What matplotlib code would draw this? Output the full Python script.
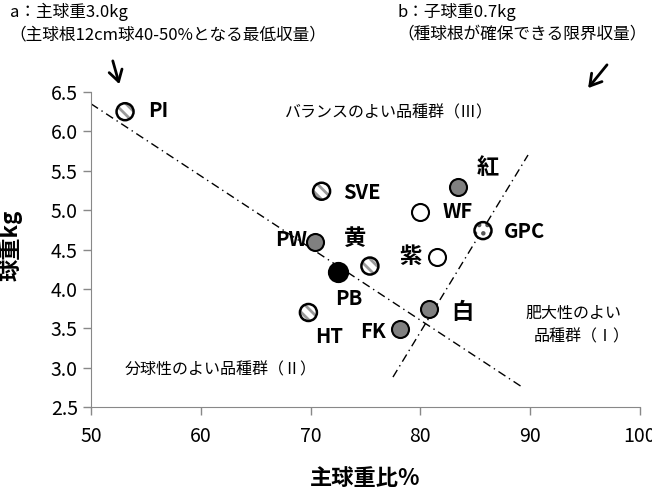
import matplotlib.pyplot as plt

plt.rcParams['font.family'] = ['Noto Sans CJK JP', 'DejaVu Sans']
plt.rcParams['hatch.linewidth'] = 2.0

# --- data ---
names = ["PI", "SVE", "紅", "WF", "GPC", "PW", "黄", "紫", "PB", "HT", "白", "FK"]
main_ratio = [53.1, 71.0, 83.4, 80.0, 85.7, 70.4, 75.4, 81.5, 72.5, 69.8, 80.8, 78.1]
bulb_weight = [6.25, 5.24, 5.29, 4.98, 4.74, 4.59, 4.29, 4.41, 4.21, 3.70, 3.74, 3.49]
style = ["hatch", "hatch", "gray", "white", "dot", "gray", "hatch", "white", "black", "hatch", "gray", "gray"]

# label offsets in points (centered labels)
offsets = {
    "PI": (24, 1), "SVE": (29, -1), "紅": (22, 14),
    "WF": (27, 0), "GPC": (30, -1), "PW": (-17, 2),
    "黄": (-11, 20), "紫": (-19, 0), "PB": (8, -19),
    "HT": (15, -17), "白": (24, -2), "FK": (-19, -2),
}

# guide lines
line_a_x = [50, 89.3]
line_a_y = [6.35, 2.75]
line_b_x = [77.5, 89.8]
line_b_y = [2.88, 5.70]

fig = plt.figure(figsize=(6.52, 4.95), dpi=100)
ax = fig.add_axes([0.1396, 0.1778, 0.842, 0.6363])

ax.plot(line_a_x, line_a_y, color="black", lw=1, ls=(0, (6, 3, 1, 3)), zorder=1)
ax.plot(line_b_x, line_b_y, color="black", lw=1, ls=(0, (6, 3, 1, 3)), zorder=1)

s = 150
for x, y, st in zip(main_ratio, bulb_weight, style):
    if st == "hatch":
        ax.scatter(x, y, s=s, facecolor="white", edgecolor="#9a9a9a", hatch="\\\\\\", lw=0, zorder=3)
        ax.scatter(x, y, s=s, facecolor="none", edgecolor="black", lw=1.8, zorder=4)
    elif st == "dot":
        ax.scatter(x, y, s=s, facecolor="white", edgecolor="#555555", hatch="..", lw=0, zorder=3)
        ax.scatter(x, y, s=s, facecolor="none", edgecolor="black", lw=1.8, zorder=4)
    elif st == "gray":
        ax.scatter(x, y, s=s, facecolor="#808080", edgecolor="black", lw=1.5, zorder=3)
    elif st == "white":
        ax.scatter(x, y, s=s, facecolor="white", edgecolor="black", lw=1.5, zorder=3)
    else:
        ax.scatter(x, y, s=s + 40, facecolor="black", edgecolor="black", lw=1.5, zorder=3)

for n, x, y in zip(names, main_ratio, bulb_weight):
    dx, dy = offsets[n]
    fs = 16 if len(n) == 1 else 14.5
    ax.annotate(n, (x, y), xytext=(dx, dy), textcoords="offset points",
                ha="center", va="center", fontsize=fs, fontweight="bold", zorder=5)

ax.text(0.353, 0.933, "バランスのよい品種群（Ⅲ）", transform=ax.transAxes, fontsize=11.5, va="center")
ax.text(0.878, 0.298, "肥大性のよい", transform=ax.transAxes, fontsize=11.5, va="center", ha="center")
ax.text(0.893, 0.222, "品種群（Ⅰ）", transform=ax.transAxes, fontsize=11.5, va="center", ha="center")
ax.text(0.062, 0.117, "分球性のよい品種群（Ⅱ）", transform=ax.transAxes, fontsize=11.5, va="center")

ax.set_xlim(50, 100)
ax.set_ylim(2.5, 6.5)
ax.set_xticks([50, 60, 70, 80, 90, 100])
ax.set_yticks([2.5, 3.0, 3.5, 4.0, 4.5, 5.0, 5.5, 6.0, 6.5])
ax.set_yticklabels(["2.5", "3.0", "3.5", "4.0", "4.5", "5.0", "5.5", "6.0", "6.5"])
ax.tick_params(labelsize=14, color="#888888", length=6, width=1)
ax.tick_params(axis="x", pad=8)
for sp in ["top", "right"]:
    ax.spines[sp].set_visible(False)
for sp in ["left", "bottom"]:
    ax.spines[sp].set_color("#888888")
ax.set_xlabel("主球重比%", fontsize=16, fontweight="bold")
ax.xaxis.set_label_coords(0.5, -0.19)
ax.set_ylabel("球重kg", fontsize=16, fontweight="bold")
ax.yaxis.set_label_coords(-0.125, 0.514)

fig.text(0.015, 0.976, "a：主球重3.0kg", fontsize=12, va="center")
fig.text(0.015, 0.929, "（主球根12cm球40-50%となる最低収量）", fontsize=12, va="center")
fig.text(0.61, 0.976, "b：子球重0.7kg", fontsize=12, va="center")
fig.text(0.61, 0.929, "（種球根が確保できる限界収量）", fontsize=12, va="center")

arrow = dict(arrowstyle="->,head_length=0.5,head_width=0.3", lw=2, color="black", mutation_scale=16,
             shrinkA=0, shrinkB=0)
ax.annotate("", xy=(0.183, 0.830), xytext=(0.173, 0.877), xycoords="figure fraction", arrowprops=arrow)
ax.annotate("", xy=(0.902, 0.822), xytext=(0.931, 0.869), xycoords="figure fraction", arrowprops=arrow)

fig.savefig("out.png", dpi=100)
